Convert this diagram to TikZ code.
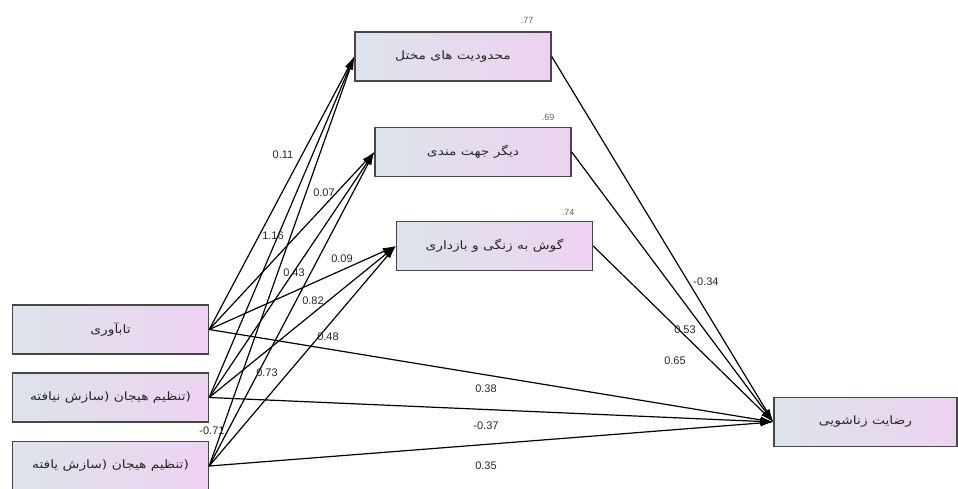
\documentclass[tikz,border=0pt]{standalone}
\usepackage{fontspec}
\setmainfont{Liberation Sans}
\newfontfamily\persianfont[Script=Arabic,FakeStretch=1.2]{DejaVu Sans}
\TeXXeTstate=1
\usetikzlibrary{arrows.meta}
\definecolor{boxleft}{HTML}{DDE3EA}
\definecolor{boxright}{HTML}{EDD3F1}

\begin{document}
\begin{tikzpicture}[x=1pt,y=-1pt,
  every node/.style={font=\fontsize{11}{13}\selectfont},
  varbox/.style={draw=black!72,line width=1.4pt,left color=boxleft,right color=boxright,
    minimum width=196pt,minimum height=49pt,inner sep=0pt,
    font=\persianfont\fontsize{11.5}{14}\selectfont,text=black!85},
  coef/.style={inner sep=1pt,text=black!85},
  rsq/.style={inner sep=1pt,text=black!60,font=\fontsize{9}{10}\selectfont},
  link/.style={line width=1.2pt,-{Latex[length=13pt,width=7pt]}}]
  \useasboundingbox (0,0) rectangle (958,489);
  % predictors
  \node[varbox] (resil) at (110.5,329.5) {\beginR تابآوری\endR};
  \node[varbox] (erNeg) at (110.5,397.5) {\beginR\beginL(\endL تنظیم هیجان \beginL(\endL سازش نیافته\endR};
  \node[varbox] (erPos) at (110.5,466) {\beginR\beginL(\endL تنظیم هیجان \beginL(\endL سازش یافته\endR};
  % schema domains
  \node[varbox] (limits) at (453,56.5) {\beginR محدودیت های مختل\endR};
  \node[varbox] (other) at (473,152) {\beginR دیگر جهت مندی\endR};
  \node[varbox] (vigil) at (494.5,246) {\beginR گوش به زنگی و بازداری\endR};
  % outcome
  \node[varbox,minimum width=183pt] (marital) at (865.5,422) {\beginR رضایت زناشویی\endR};
  \node[rsq] (r2lim) at (527,20) {.77};
  \node[rsq] (r2oth) at (548,117) {.69};
  \node[rsq] (r2vig) at (568,212) {.74};
  \foreach \s in {resil,erNeg,erPos} {
    \foreach \t in {limits,other,vigil,marital}
      \draw[link] (\s.east) -- (\t.west);
  }
  \foreach \m in {limits,other,vigil}
    \draw[link] (\m.east) -- (marital.west);
  \foreach \n/\x/\y/\v in {c1/283/155/0.11,c2/324/193/0.07,c3/273/236/1.16,c4/294/273/0.43,
      c5/342/259/0.09,c6/313/301/0.82,c7/328/337/0.48,c8/267/373/0.73,c9/212/431/-0.71,
      c10/486/389/0.38,c11/486/426/-0.37,c12/486/466/0.35,
      c13/706/282/-0.34,c14/685/330/0.53,c15/675/361/0.65}
    \node[coef] (\n) at (\x,\y) {\v};
\end{tikzpicture}
\end{document}
